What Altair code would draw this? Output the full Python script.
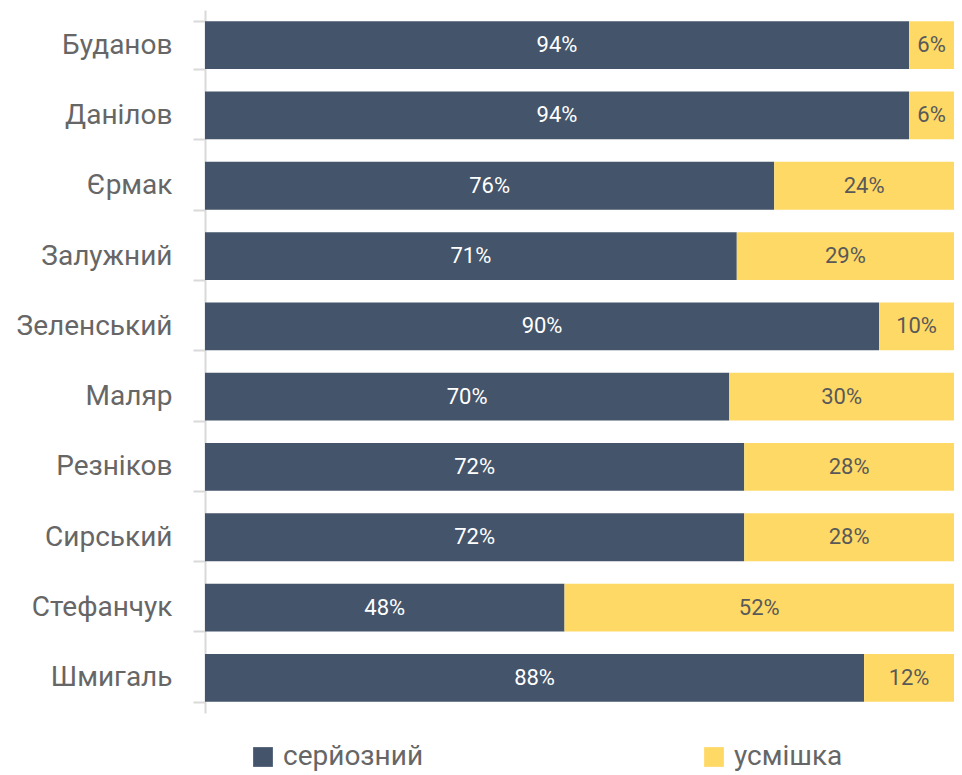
import altair as alt
import pandas as pd

names = ["Буданов", "Данілов", "Єрмак", "Залужний", "Зеленський",
         "Маляр", "Резніков", "Сирський", "Стефанчук", "Шмигаль"]
serious = [94, 94, 76, 71, 90, 70, 72, 72, 48, 88]
smile = [6, 6, 24, 29, 10, 30, 28, 28, 52, 12]
series = ["серйозний", "усмішка"]
colors = ["#44546A", "#FFD966"]

rows = []
for n, a, b in zip(names, serious, smile):
    rows.append({"name": n, "type": series[0], "order": 0, "value": a})
    rows.append({"name": n, "type": series[1], "order": 1, "value": b})
df = pd.DataFrame(rows)

FONT = "Roboto"

base = alt.Chart(df).transform_stack(
    stack="value", groupby=["name"], sort=[alt.SortField("order", "ascending")],
    as_=["x0", "x1"], offset="normalize"
).transform_calculate(
    mid="(datum.x0 + datum.x1) / 2",
    label="datum.value + '%'"
)

y_enc = alt.Y("name:N", sort=names, title=None,
              scale=alt.Scale(paddingInner=0.32, paddingOuter=0.16),
              axis=alt.Axis(labelFont=FONT, labelFontSize=28, labelColor="#666666",
                            labelPadding=21, tickBand="extent", tickSize=12,
                            tickColor="#d9d9d9", tickWidth=2, domainColor="#d9d9d9",
                            domainWidth=2, labelLimit=300))

bars = base.mark_bar().encode(
    y=y_enc,
    x=alt.X("x0:Q", axis=None, scale=alt.Scale(domain=[0, 1], nice=False, zero=True)),
    x2="x1:Q",
    color=alt.Color("type:N", scale=alt.Scale(domain=series, range=colors),
                    legend=alt.Legend(title=None, orient="none", legendX=44, legendY=733,
                                      direction="horizontal", symbolType="square",
                                      symbolSize=390, symbolStrokeWidth=0,
                                      labelFont=FONT, labelFontSize=28,
                                      labelColor="#666666", labelOffset=6,
                                      columnPadding=276, labelLimit=400)),
)

text = base.mark_text(font=FONT, fontSize=22, baseline="middle", align="center").encode(
    y=alt.Y("name:N", sort=names),
    x=alt.X("mid:Q"),
    text="label:N",
    color=alt.condition(alt.datum.type == "серйозний", alt.value("#ffffff"), alt.value("#595959")),
)

chart = alt.layer(bars, text).properties(
    width=749, height=703,
    autosize=alt.AutoSizeParams(type="none"),
    padding={"left": 197, "top": 2, "right": 0, "bottom": 62},
).configure_view(stroke=None).configure_axis(grid=False)

chart.save("out.html", embed_options={"renderer": "svg", "actions": False})
